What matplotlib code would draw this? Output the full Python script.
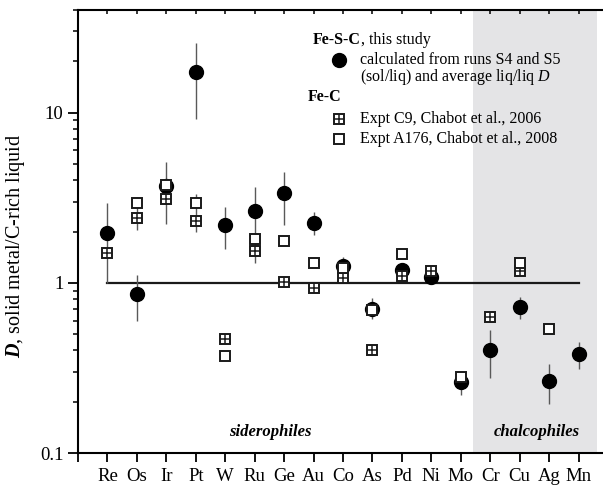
import numpy as np
import matplotlib
matplotlib.use("Agg")
import matplotlib.pyplot as plt
from matplotlib.ticker import FixedLocator, FixedFormatter, LogLocator, NullFormatter

plt.rcParams["font.family"] = "Liberation Serif"
plt.rcParams["mathtext.fontset"] = "custom"
plt.rcParams["mathtext.rm"] = "Liberation Serif"
plt.rcParams["mathtext.it"] = "Liberation Serif:italic"
plt.rcParams["mathtext.bf"] = "Liberation Serif:bold"
plt.rcParams["mathtext.bfit"] = "Liberation Serif:bold:italic"

elements = ["Re", "Os", "Ir", "Pt", "W", "Ru", "Ge", "Au", "Co",
            "As", "Pd", "Ni", "Mo", "Cr", "Cu", "Ag", "Mn"]

# Fe-S-C, this study (with error range)
d_fesc = [1.97, 0.86, 3.7, 17.2, 2.19, 2.65, 3.36, 2.25, 1.25,
          0.70, 1.19, 1.08, 0.26, 0.40, 0.72, 0.265, 0.38]
lo_fesc = [1.0, 0.6, 2.2, 9.2, 1.58, 1.31, 2.18, 1.92, 1.10,
           0.61, 1.19, 1.08, 0.22, 0.276, 0.61, 0.195, 0.31]
hi_fesc = [2.95, 1.11, 5.1, 25.6, 2.8, 3.67, 4.5, 2.62, 1.42,
           0.815, 1.19, 1.08, 0.26, 0.53, 0.83, 0.334, 0.45]

# Expt C9, Chabot et al., 2006
d_c9 = [1.5, 2.41, 3.12, 2.3, 0.47, 1.54, 1.01, 0.93, 1.07,
        0.40, 1.10, 1.17, np.nan, 0.63, 1.17, np.nan, np.nan]
lo_c9 = [1.5, 2.05, 3.12, 2.0, 0.47, 1.54, 1.01, 0.93, 1.07,
         0.40, 1.10, 1.17, np.nan, 0.63, 1.17, np.nan, np.nan]
hi_c9 = [1.5, 3.2, 3.12, 3.33, 0.47, 1.54, 1.01, 0.93, 1.07,
         0.40, 1.10, 1.17, np.nan, 0.63, 1.17, np.nan, np.nan]

# Expt A176, Chabot et al., 2008
d_a176 = [np.nan, 2.96, 3.77, 2.96, 0.37, 1.81, 1.77, 1.31, 1.22,
          0.69, 1.48, np.nan, 0.28, np.nan, 1.30, 0.535, np.nan]

x = np.arange(1, len(elements) + 1)
d_fesc = np.array(d_fesc)
d_c9 = np.array(d_c9)

fig = plt.figure(figsize=(6.03, 4.86), dpi=100)
ax = fig.add_axes([78 / 603, 1 - 453 / 486, 525 / 603, 443 / 486])

ax.axvspan(13.42, 17.63, color="#e4e4e6", zorder=0, lw=0)
ax.plot([x[0], x[-1]], [1, 1], color="#1a1a1a", lw=1.6, zorder=1)

ax.errorbar(x, d_fesc, yerr=[d_fesc - np.array(lo_fesc), np.array(hi_fesc) - d_fesc],
            fmt="none", ecolor="0.35", elinewidth=1.0, zorder=2)
ax.errorbar(x, d_c9, yerr=[d_c9 - np.array(lo_c9), np.array(hi_c9) - d_c9],
            fmt="none", ecolor="0.35", elinewidth=1.0, zorder=2)

circ = dict(marker="o", ms=10, color="black", ls="none")
sq = dict(marker="s", ms=7.3, mfc="white", mec="#1a1a1a", mew=1.4, ls="none")
plus = dict(marker="+", ms=7.3, mec="#1a1a1a", mew=1.1, ls="none")

ax.plot(x, d_fesc, zorder=3, **circ)
ax.plot(x, d_c9, zorder=4, **sq)
ax.plot(x, d_c9, zorder=4.1, **plus)
ax.plot(x, d_a176, zorder=5, **sq)

ax.set_yscale("log")
ax.set_ylim(0.1, 40)
ax.set_xlim(0, 17.83)

ax.yaxis.set_major_locator(FixedLocator([0.1, 1, 10]))
ax.yaxis.set_major_formatter(FixedFormatter(["0.1", "1", "10"]))
ax.yaxis.set_minor_locator(LogLocator(base=10, subs=np.arange(2, 10)))
ax.yaxis.set_minor_formatter(NullFormatter())
ax.tick_params(axis="y", which="major", direction="out", length=7, width=1.3, labelsize=13.5)
ax.tick_params(axis="y", which="minor", direction="out", length=3.5, width=1.1)

ax.set_xticks(np.arange(0, 18))
ax.set_xticklabels([""] + elements)
ax.tick_params(axis="x", direction="out", length=6.5, width=1.3, labelsize=13.5, pad=4)

top = ax.secondary_xaxis("top")
top.set_xticks(np.arange(0, 18))
top.tick_params(direction="in", length=3, width=1.1, labeltop=False)
top.spines["top"].set_linewidth(1.5)

ax.spines["right"].set_visible(False)
ax.spines["top"].set_visible(False)
for s in ["left", "bottom"]:
    ax.spines[s].set_linewidth(1.5)

ax.set_ylabel(r"$\mathbfit{D}$, solid metal/C-rich liquid", fontsize=14.5)
ax.yaxis.set_label_coords(-0.097, 0.467)

ax.text(6.52, 0.132, "siderophiles", fontsize=12, fontweight="bold",
        fontstyle="italic", ha="center", va="center")
ax.text(15.59, 0.132, "chalcophiles", fontsize=12, fontweight="bold",
        fontstyle="italic", ha="center", va="center")

# legend drawn by hand
tr = ax.transAxes
fs = 11.5
t1 = ax.text(0.4476, 0.932, "Fe-S-C", transform=tr, fontsize=fs,
             fontweight="bold", va="center")
ax.annotate(", this study", xy=(1, 0), xycoords=t1, va="bottom", fontsize=fs)
ax.plot([0.497], [0.887], transform=tr, clip_on=False, **circ)
ax.text(0.537, 0.887, "calculated from runs S4 and S5", transform=tr,
        fontsize=fs, va="center")
ax.text(0.537, 0.849, r"(sol/liq) and average liq/liq $D$", transform=tr,
        fontsize=fs, va="center")
ax.text(0.438, 0.804, "Fe-C", transform=tr, fontsize=fs, fontweight="bold",
        va="center")
ax.plot([0.497], [0.754], transform=tr, clip_on=False, **sq)
ax.plot([0.497], [0.754], transform=tr, clip_on=False, **plus)
ax.text(0.537, 0.754, "Expt C9, Chabot et al., 2006", transform=tr,
        fontsize=fs, va="center")
ax.plot([0.497], [0.709], transform=tr, clip_on=False, **sq)
ax.text(0.537, 0.709, "Expt A176, Chabot et al., 2008", transform=tr,
        fontsize=fs, va="center")

fig.savefig("out.png", dpi=100)
